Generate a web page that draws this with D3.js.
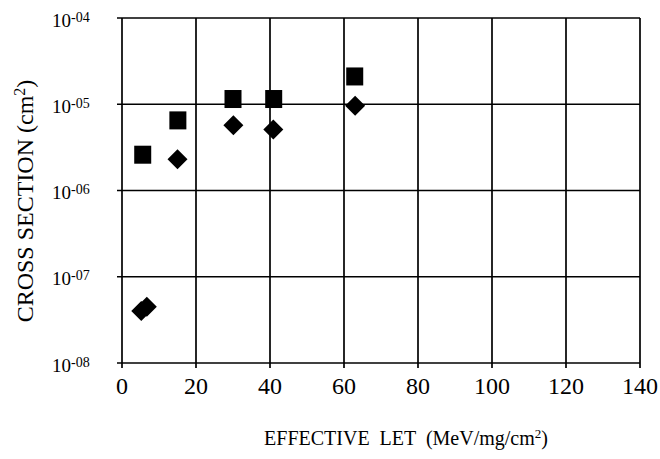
<!DOCTYPE html>
<html>
<head>
<meta charset="utf-8">
<script src="https://cdn.jsdelivr.net/npm/d3@7"></script>
<style>
  body { margin: 0; background: #fff; }
  svg text { font-family: "Liberation Serif", "DejaVu Serif", serif; fill: #000; }
</style>
</head>
<body>
<svg width="660" height="459"></svg>
<script>
// data
const squareLET = [5.6, 15.1, 30.0, 41.0, 62.9];
const squareXS = [2.6e-6, 6.5e-6, 1.15e-5, 1.15e-5, 2.1e-5];
const diamondLET = [5.2, 6.7, 15.0, 30.1, 40.9, 63.0];
const diamondXS = [4.0e-8, 4.5e-8, 2.3e-6, 5.7e-6, 5.1e-6, 9.6e-6];

const xTicks = [0, 20, 40, 60, 80, 100, 120, 140];
const yTicks = [1e-8, 1e-7, 1e-6, 1e-5, 1e-4];
const yTickExp = ["-08", "-07", "-06", "-05", "-04"];

const svg = d3.select("svg");
const plotL = 122, plotR = 640, plotT = 18, plotB = 363;

const x = d3.scaleLinear().domain([0, 140]).range([plotL, plotR]);
const y = d3.scaleLog().domain([1e-8, 1e-4]).range([plotB, plotT]);

// grid
const grid = svg.append("g").attr("stroke", "#000").attr("stroke-width", 1.7);
grid.selectAll(".vx")
  .data(xTicks)
  .enter()
  .append("line")
  .attr("x1", (d) => x(d))
  .attr("x2", (d) => x(d))
  .attr("y1", plotT)
  .attr("y2", plotB + 5);
grid.selectAll(".hy")
  .data(yTicks)
  .enter()
  .append("line")
  .attr("x1", plotL - 5)
  .attr("x2", plotR)
  .attr("y1", (d) => y(d))
  .attr("y2", (d) => y(d));

// x tick labels
svg.append("g")
  .selectAll("text")
  .data(xTicks)
  .enter()
  .append("text")
  .attr("x", (d) => x(d))
  .attr("y", 394)
  .attr("text-anchor", "middle")
  .attr("font-size", 24)
  .text((d) => d);

// y tick labels, 10 with superscript exponent
const yl = svg.append("g")
  .selectAll("text")
  .data(yTicks)
  .enter()
  .append("text")
  .attr("x", 52)
  .attr("y", (d) => y(d) + 8.5)
  .attr("font-size", 19);
yl.append("tspan").text("10");
yl.append("tspan")
  .attr("dy", -5)
  .attr("font-size", 14)
  .text((d, i) => yTickExp[i]);

// markers
svg.append("g")
  .selectAll("rect")
  .data(squareLET)
  .enter()
  .append("rect")
  .attr("x", (d) => x(d) - 8.5)
  .attr("y", (d, i) => y(squareXS[i]) - 9)
  .attr("width", 17)
  .attr("height", 18)
  .attr("fill", "#000");

svg.append("g")
  .selectAll("path")
  .data(diamondLET)
  .enter()
  .append("path")
  .attr("d", d3.symbol().type(d3.symbolSquare).size(200))
  .attr("transform", (d, i) => `translate(${x(d)},${y(diamondXS[i])}) rotate(45)`)
  .attr("fill", "#000");

// axis titles
const xt = svg.append("text")
  .attr("x", 406)
  .attr("y", 445)
  .attr("text-anchor", "middle")
  .attr("font-size", 20)
  .attr("xml:space", "preserve");
xt.append("tspan").text("EFFECTIVE  LET  (MeV/mg/cm");
xt.append("tspan").attr("dy", -7).attr("font-size", 13).text("2");
xt.append("tspan").attr("dy", 7).text(")");

const yt = svg.append("text")
  .attr("transform", "translate(33,201) rotate(-90)")
  .attr("text-anchor", "middle")
  .attr("font-size", 24);
yt.append("tspan").text("CROSS SECTION (cm");
yt.append("tspan").attr("dy", -8).attr("font-size", 16).text("2");
yt.append("tspan").attr("dy", 8).text(")");
</script>
</body>
</html>
